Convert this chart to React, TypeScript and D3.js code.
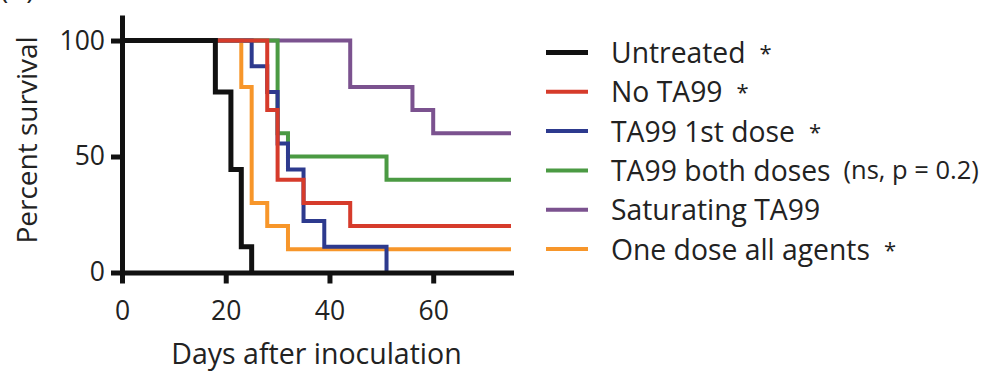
import { useRef, useEffect } from 'react';
import * as d3 from 'd3';

// Kaplan-Meier steps (day of event, percent surviving after it)
const untreatedDays = [0, 18, 21, 23, 25];
const untreatedSurv = [100, 77.8, 44.4, 11.1, 0];

const noTa99Days = [0, 28, 30, 35, 44, 75];
const noTa99Surv = [100, 70, 40, 30, 20, 20];

const firstDoseDays = [0, 25, 28, 30, 32, 35, 39, 51];
const firstDoseSurv = [100, 88.9, 77.8, 55.6, 44.4, 22.2, 11.1, 0];

const bothDosesDays = [0, 30, 32, 51, 75];
const bothDosesSurv = [100, 60, 50, 40, 40];

const saturatingDays = [0, 44, 56, 60, 75];
const saturatingSurv = [100, 80, 70, 60, 60];

const oneDoseDays = [0, 23, 25, 28, 32, 75];
const oneDoseSurv = [100, 80, 30, 20, 10, 10];

const xTicks = [0, 20, 40, 60];
const yTicks = [0, 50, 100];

const groups = [
  { name: 'Untreated', note: '*', days: untreatedDays, surv: untreatedSurv, color: '#111111', width: 5 },
  { name: 'No TA99', note: '*', days: noTa99Days, surv: noTa99Surv, color: '#d63b2b', width: 4 },
  { name: 'TA99 1st dose', note: '*', days: firstDoseDays, surv: firstDoseSurv, color: '#2d3a8e', width: 4 },
  { name: 'TA99 both doses', note: '(ns, p = 0.2)', days: bothDosesDays, surv: bothDosesSurv, color: '#4b9a43', width: 4 },
  { name: 'Saturating TA99', note: '', days: saturatingDays, surv: saturatingSurv, color: '#7b528f', width: 4 },
  { name: 'One dose all agents', note: '*', days: oneDoseDays, surv: oneDoseSurv, color: '#f7962a', width: 4 },
];

// bottom -> top drawing order, as the overlaps appear in the figure
const drawOrder = ['Saturating TA99', 'TA99 both doses', 'One dose all agents', 'TA99 1st dose', 'No TA99', 'Untreated'];

const W = 993;
const H = 372;
const FONT = '"Open Sans", sans-serif';

export default function App() {
  const svgRef = useRef<SVGSVGElement>(null);

  useEffect(() => {
    if (!svgRef.current) return;
    const svg = d3.select(svgRef.current);
    svg.selectAll('*').remove();

    const x = d3.scaleLinear().domain([0, 75]).range([122, 511]);
    const y = d3.scaleLinear().domain([0, 111]).range([272.5, 15]);

    const line = d3
      .line<[number, number]>()
      .x((d) => x(d[0]))
      .y((d) => y(d[1]))
      .curve(d3.curveStepAfter);

    // panel letter, cut off at the top edge as in the source figure
    svg
      .append('text')
      .attr('x', 0)
      .attr('y', -1)
      .attr('font-family', FONT)
      .attr('font-size', 28)
      .attr('fill', '#222')
      .text('(B)');

    // survival curves
    drawOrder.forEach((name) => {
      const g = groups.find((d) => d.name === name)!;
      const pts = g.days.map((d, i) => [d, g.surv[i]] as [number, number]);
      svg
        .append('path')
        .attr('d', line(pts))
        .attr('fill', 'none')
        .attr('stroke', g.color)
        .attr('stroke-width', g.width)
        .attr('stroke-linejoin', 'miter');
    });

    // axes
    svg
      .append('g')
      .attr('transform', `translate(0,${y(0)})`)
      .call(d3.axisBottom(x).tickValues(xTicks).tickSize(11).tickSizeOuter(0).tickPadding(18))
      .call((g) => g.select('.domain').attr('stroke', '#111').attr('stroke-width', 5).attr('stroke-linecap', 'square'))
      .call((g) => g.selectAll('.tick line').attr('stroke', '#111').attr('stroke-width', 5))
      .call((g) =>
        g.selectAll('.tick text').attr('fill', '#222').attr('font-size', 26.5).attr('font-family', FONT)
      );

    svg
      .append('g')
      .attr('transform', `translate(${x(0)},0)`)
      .call(d3.axisLeft(y).tickValues(yTicks).tickSize(11).tickSizeOuter(0).tickPadding(6))
      .call((g) => g.select('.domain').attr('stroke', '#111').attr('stroke-width', 5))
      .call((g) => g.selectAll('.tick line').attr('stroke', '#111').attr('stroke-width', 5))
      .call((g) =>
        g.selectAll('.tick text').attr('fill', '#222').attr('font-size', 26.5).attr('font-family', FONT)
      );

    // axis titles
    svg
      .append('text')
      .attr('x', (x(0) + x(75)) / 2)
      .attr('y', 364)
      .attr('text-anchor', 'middle')
      .attr('font-family', FONT)
      .attr('font-size', 28.5)
      .attr('fill', '#222')
      .text('Days after inoculation');

    svg
      .append('text')
      .attr('transform', `translate(37,140) rotate(-90)`)
      .attr('text-anchor', 'middle')
      .attr('font-family', FONT)
      .attr('font-size', 28)
      .attr('fill', '#222')
      .text('Percent survival');

    // legend
    const legend = svg.append('g').attr('transform', 'translate(546,52.5)');
    groups.forEach((g, i) => {
      const row = legend.append('g').attr('transform', `translate(0,${i * 39.3})`);
      row
        .append('line')
        .attr('x1', 0)
        .attr('x2', 42)
        .attr('stroke', g.color)
        .attr('stroke-width', g.width);
      const t = row
        .append('text')
        .attr('x', 65)
        .attr('y', 10.5)
        .attr('font-family', FONT)
        .attr('font-size', 28.3)
        .attr('fill', '#222')
        .text(g.name);
      if (g.note === '*') {
        t.append('tspan').attr('dx', 14).attr('font-size', 22).attr('dy', -2).text('*');
      } else if (g.note) {
        t.append('tspan').attr('dx', 13).attr('font-size', 25.5).attr('dy', -2).text(g.note);
      }
    });
  }, []);

  return (
    <svg
      ref={svgRef}
      width={W}
      height={H}
      style={{ position: 'absolute', left: 0, top: 0, background: '#fff' }}
    />
  );
}
